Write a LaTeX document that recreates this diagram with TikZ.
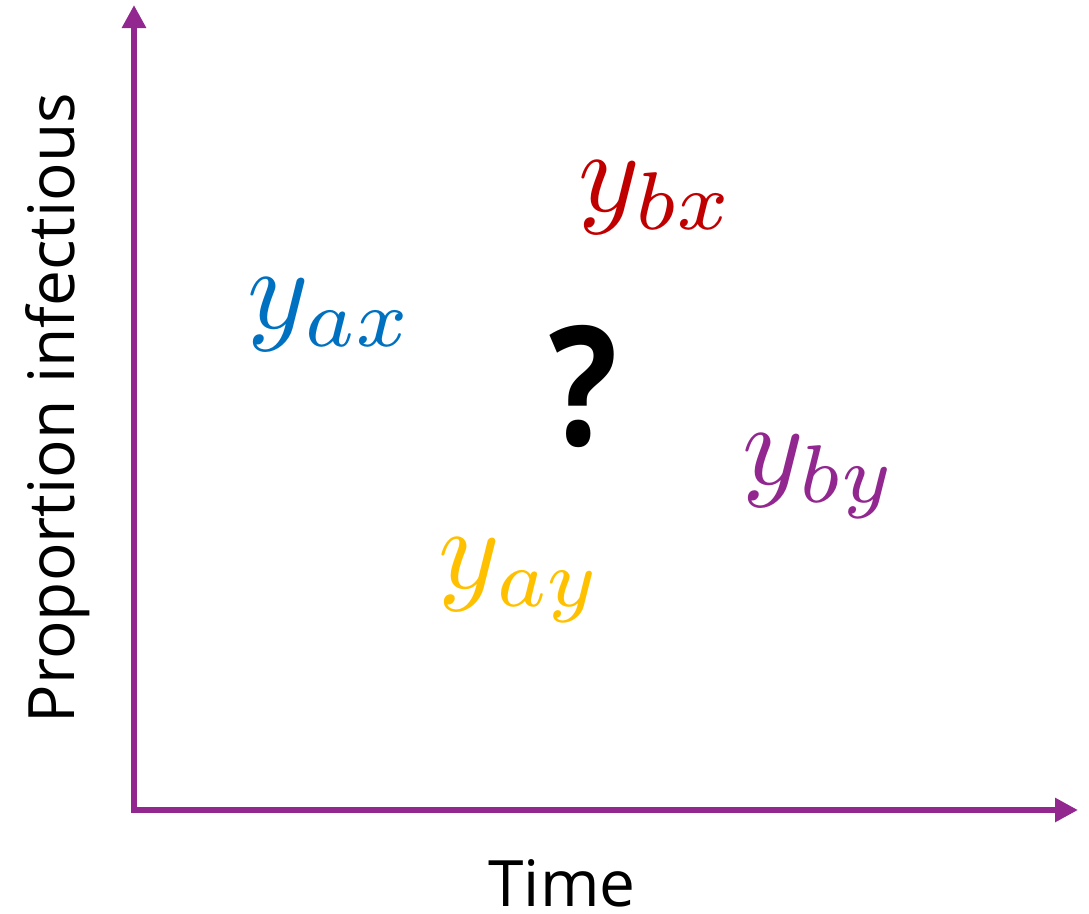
\documentclass[tikz,border=0pt]{standalone}
\usepackage{fontspec}
\setmainfont{Open Sans}
\usetikzlibrary{arrows.meta}
\definecolor{axpurple}{HTML}{92278F}
\definecolor{cblue}{HTML}{0070C0}
\definecolor{cred}{HTML}{C00000}
\definecolor{cgold}{HTML}{FFC000}
\begin{document}
\begin{tikzpicture}[x=1pt,y=-1pt,
  axisline/.style={draw=axpurple,line width=6.5pt,-{Triangle[length=23pt,width=23pt]}},
  axlabel/.style={inner sep=0pt,font=\fontsize{64}{64}\selectfont},
  mathlbl/.style={inner sep=0pt,scale=11.7}]
\useasboundingbox (0,0) rectangle (1089,913);
\coordinate (O) at (134,810);
\coordinate (Ytop) at (134,5);
\coordinate (Xend) at (1078,810);
\draw[axisline] ([yshift=-3.25pt]O) -- (Ytop);
\draw[axisline] (O) -- (Xend);
\node[axlabel,anchor=base] (time) at (562,906) {Time};
\node[axlabel,anchor=base,rotate=90] (prop) at (74,408) {Proportion infectious};
\node[mathlbl,text=cblue] (yax) at (331,315) {$y_{ax}$};
\node[mathlbl,text=cred] (ybx) at (657,198) {$y_{bx}$};
\node[mathlbl,text=axpurple] (yby) at (820,476) {$y_{by}$};
\node[mathlbl,text=cgold] (yay) at (521,580) {$y_{ay}$};
\node[inner sep=0pt,xscale=0.86,font=\fontsize{166}{166}\selectfont\bfseries] (q) at (584,386) {?};
\end{tikzpicture}
\end{document}
